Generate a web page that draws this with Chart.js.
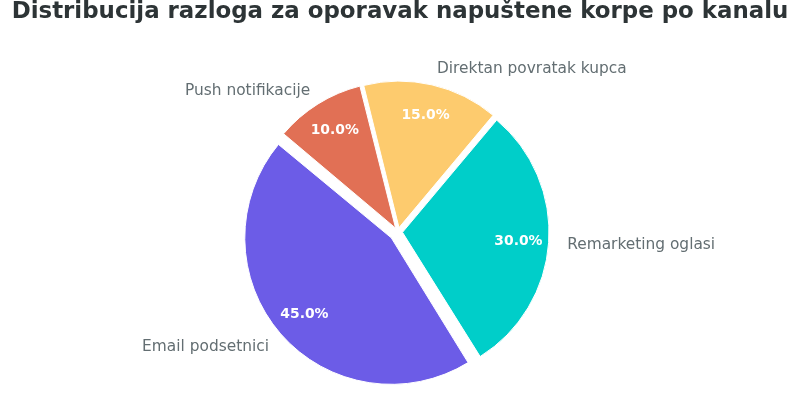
<!DOCTYPE html>
<html>
<head>
<meta charset="utf-8">
<script src="https://cdn.jsdelivr.net/npm/chart.js@4"></script>
<style>
  body { margin: 0; background: #fff; }
  #wrap { width: 800px; height: 420px; position: relative; }
</style>
</head>
<body>
<div id="wrap"><canvas id="pieChart"></canvas></div>
<script>
const TITLE = "Distribucija razloga za oporavak napuštene korpe po kanalu";

// podaci (redosled u smeru kazaljke na satu)
const kanali = ["Email podsetnici", "Push notifikacije", "Direktan povratak kupca", "Remarketing oglasi"];
const udeli = [45, 10, 15, 30];
const boje = ["#6C5CE7", "#E17055", "#FDCB6E", "#00CEC9"];

// izvlacenje isecaka (px)
const izvuceno = [8.9, 4.5, 4.5, 4.5];
const RADIUS = 146.5;

// Chart.js pomera luk za offset/4 i malo ga uvecava - ovo vraca radijus
const fixRadius = {
  id: "fixRadius",
  beforeDatasetsDraw(chart) {
    chart.getDatasetMeta(0).data.forEach((arc, i) => {
      const fix = 1 - Math.sin(Math.min(Math.PI, arc.circumference));
      arc.outerRadius = RADIUS - izvuceno[i] * fix;
    });
  }
};

// naslov, procenti i nazivi kanala
const labelsPlugin = {
  id: "pieLabels",
  afterDraw(chart) {
    const ctx = chart.ctx;
    ctx.save();
    ctx.fillStyle = "#2d3436";
    ctx.font = "bold 22.9px 'DejaVu Sans'";
    ctx.textAlign = "center";
    ctx.textBaseline = "alphabetic";
    ctx.fillText(TITLE, 400, 17.5);

    const total = udeli.reduce((a, b) => a + b, 0);
    chart.getDatasetMeta(0).data.forEach((arc, i) => {
      const mid = (arc.startAngle + arc.endAngle) / 2;
      const cos = Math.cos(mid), sin = Math.sin(mid);

      // procenat
      const pd = izvuceno[i] + RADIUS * 0.79;
      ctx.font = "bold 13.9px 'DejaVu Sans'";
      ctx.fillStyle = "#ffffff";
      ctx.textAlign = "center";
      ctx.textBaseline = "middle";
      ctx.fillText((udeli[i] / total * 100).toFixed(1) + "%", arc.x + cos * pd + 0.5, arc.y + sin * pd + 0.7);

      // naziv
      const ld = izvuceno[i] + RADIUS * 1.12;
      ctx.font = "15.4px 'DejaVu Sans'";
      ctx.fillStyle = "#636e72";
      ctx.textAlign = cos > 0 ? "left" : "right";
      ctx.fillText(kanali[i], arc.x + cos * ld + (cos > 0 ? 1 : 1.5), arc.y + sin * ld + 1.5);
    });
    ctx.restore();
  }
};

new Chart(document.getElementById("pieChart"), {
  type: "pie",
  data: {
    labels: kanali,
    datasets: [{
      data: udeli,
      backgroundColor: boje,
      borderColor: "#ffffff",
      borderWidth: 1,
      offset: izvuceno.map(v => v * 4),
      hoverOffset: 0
    }]
  },
  options: {
    responsive: true,
    maintainAspectRatio: false,
    animation: false,
    rotation: 148,
    radius: RADIUS,
    layout: { padding: { left: 60, right: 64, top: 55, bottom: 11 } },
    plugins: {
      legend: { display: false },
      tooltip: { enabled: false },
      title: { display: false }
    }
  },
  plugins: [fixRadius, labelsPlugin]
});
</script>
</body>
</html>
